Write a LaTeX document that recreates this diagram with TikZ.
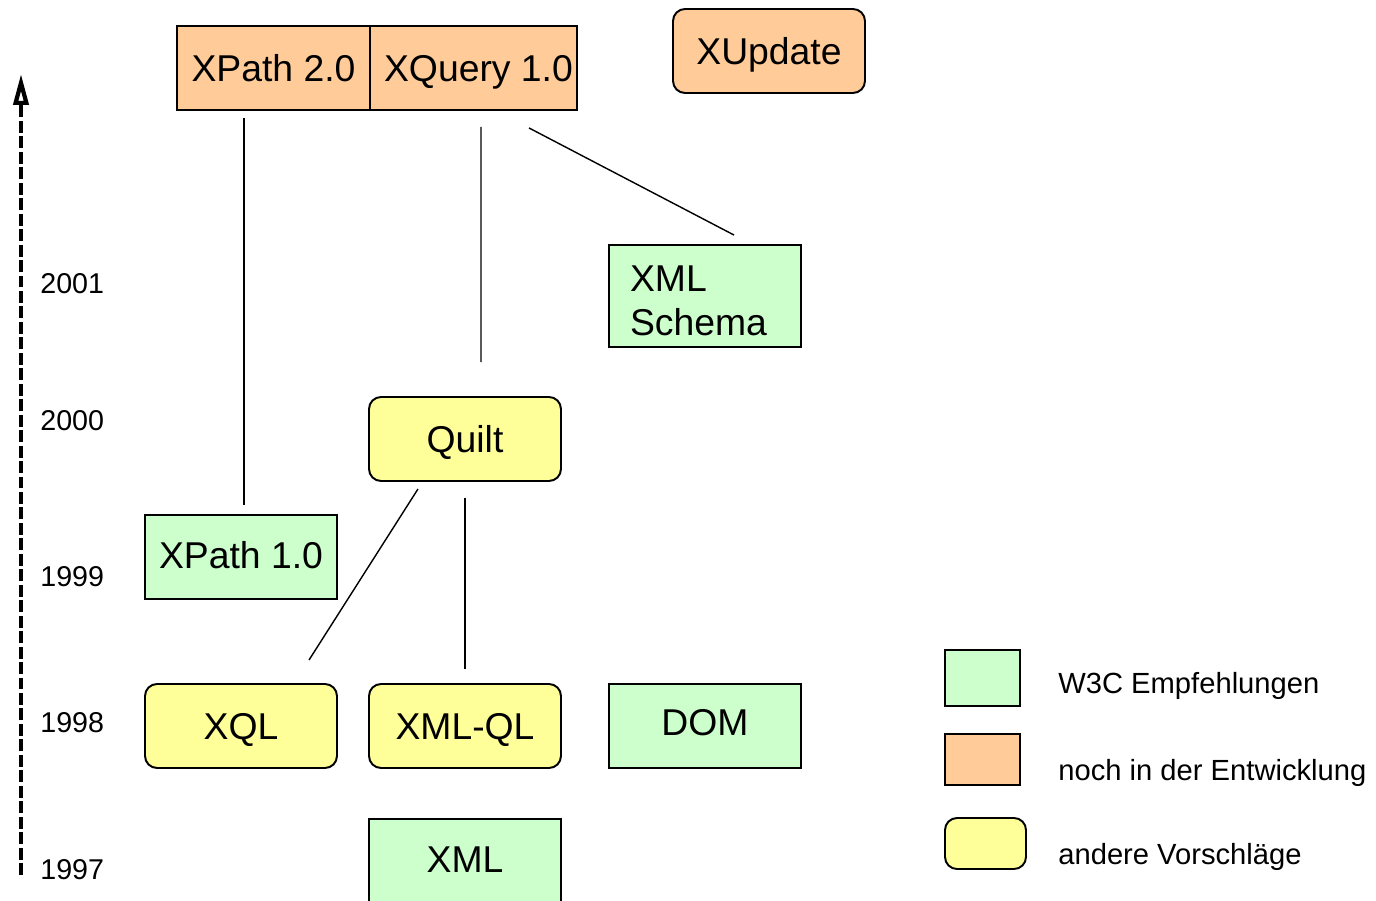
\documentclass[tikz,border=0pt]{standalone}
\usepackage{fontspec}
\setmainfont{Liberation Sans}
\usepackage{xcolor}
\usepackage{tikz}
\usetikzlibrary{calc}
\usetikzlibrary{arrows.meta}
\definecolor{w3cgreen}{HTML}{CCFFCC}
\definecolor{devorange}{HTML}{FFCC99}
\definecolor{propyellow}{HTML}{FFFF99}
\tikzset{
    box/.style={draw=black,line width=1.1pt,minimum width=3.84cm,minimum height=1.68cm,inner sep=0pt,
        text height=15.2pt,text depth=0pt,font=\fontsize{21.25}{25}\selectfont},
    rec/.style={box,fill=w3cgreen},
    dev/.style={box,fill=devorange},
    prop/.style={box,fill=propyellow,rounded corners=0.24cm},
    link/.style={line width=0.8pt},
    year/.style={anchor=west,inner sep=0pt,text height=11.7pt,text depth=0pt,font=\fontsize{16.3}{19}\selectfont},
    legtext/.style={anchor=west,inner sep=0pt,text height=11.9pt,text depth=0pt,font=\fontsize{16.6}{19}\selectfont},
    key/.style={draw=black,line width=1.1pt,minimum width=1.5cm,inner sep=0pt},
    timeline/.style={line width=2.2pt,dash pattern=on 6.8pt off 2pt,-{Triangle[open,length=0.62cm,width=0.3cm,line width=2.4pt]}}
}

\begin{document}
\begin{tikzpicture}[x=0.02cm,y=-0.02cm]
        \useasboundingbox (0,0) rectangle (1376,901);
        \clip (0,0) rectangle (1376,901);

        %%% TIME AXIS %%%
        \coordinate (tbot) at (21,875);
        \coordinate (ttop) at (21,74);
        \draw[timeline] (tbot) -- (ttop);
        \node[year] (y2001) at (40,283) {2001};
        \node[year] (y2000) at (40,420) {2000};
        \node[year] (y1999) at (40,576) {1999};
        \node[year] (y1998) at (40,722) {1998};
        \node[year] (y1997) at (40,869) {1997};

        %%% LANGUAGES %%%
        \node[dev,minimum width=3.86cm] (xpath2) at (273.5,68) {XPath 2.0};
        \node[dev,minimum width=4.14cm] (xquery) at (473.5,68) {\hspace*{0.2cm}XQuery 1.0};
        \node[dev,rounded corners=0.24cm] (xupdate) at (769,51) {XUpdate};
        \node[rec,minimum height=2.04cm,text height=,text depth=,text width=3cm,align=left] (schema) at (705,296)
            {\rule{0pt}{0.71cm}XML\\Schema};
        \node[prop] (quilt) at (465,439) {Quilt};
        \node[rec,text depth=0.08cm] (xpath1) at (241,557) {XPath 1.0};
        \node[prop] (xql) at (241,726) {XQL};
        \node[prop] (xmlql) at (465,726) {XML-QL};
        \node[rec,text depth=0.16cm] (dom) at (705,726) {DOM};
        \node[rec,anchor=north,text depth=0.08cm] (xml) at (465,818) {XML};

        %%% INFLUENCES %%%
        \draw[link] ($(xpath2.south)+(-29.5,7)$) -- ($(xpath1.north)+(3,-9)$);
        \draw[link] ($(xquery.south)+(7.5,16)$) -- ($(quilt.north)+(16,-34)$);
        \draw[link] ($(xquery.south)+(55.5,17)$) -- ($(schema.north)+(29,-9)$);
        \draw[link] ($(quilt.south)+(-47,7)$) -- ($(xql.north)+(68,-23)$);
        \draw[link] ($(quilt.south)+(0,16)$) -- ($(xmlql.north)+(0,-14)$);

        %%% LEGEND %%%
        \node[key,fill=w3cgreen,minimum height=1.12cm] (krec) at (982.5,678) {};
        \node[key,fill=devorange,minimum height=1.02cm] (kdev) at (982.5,759.5) {};
        \node[key,fill=propyellow,minimum width=1.62cm,minimum height=1.02cm,rounded corners=0.24cm] (kprop) at (985.5,843.5) {};
        \node[legtext] (trec) at (1058,683.5) {W3C Empfehlungen};
        \node[legtext] (tdev) at (1058,770) {noch in der Entwicklung};
        \node[legtext] (tprop) at (1058,854.5) {andere Vorschläge};
    \end{tikzpicture}
\end{document}
